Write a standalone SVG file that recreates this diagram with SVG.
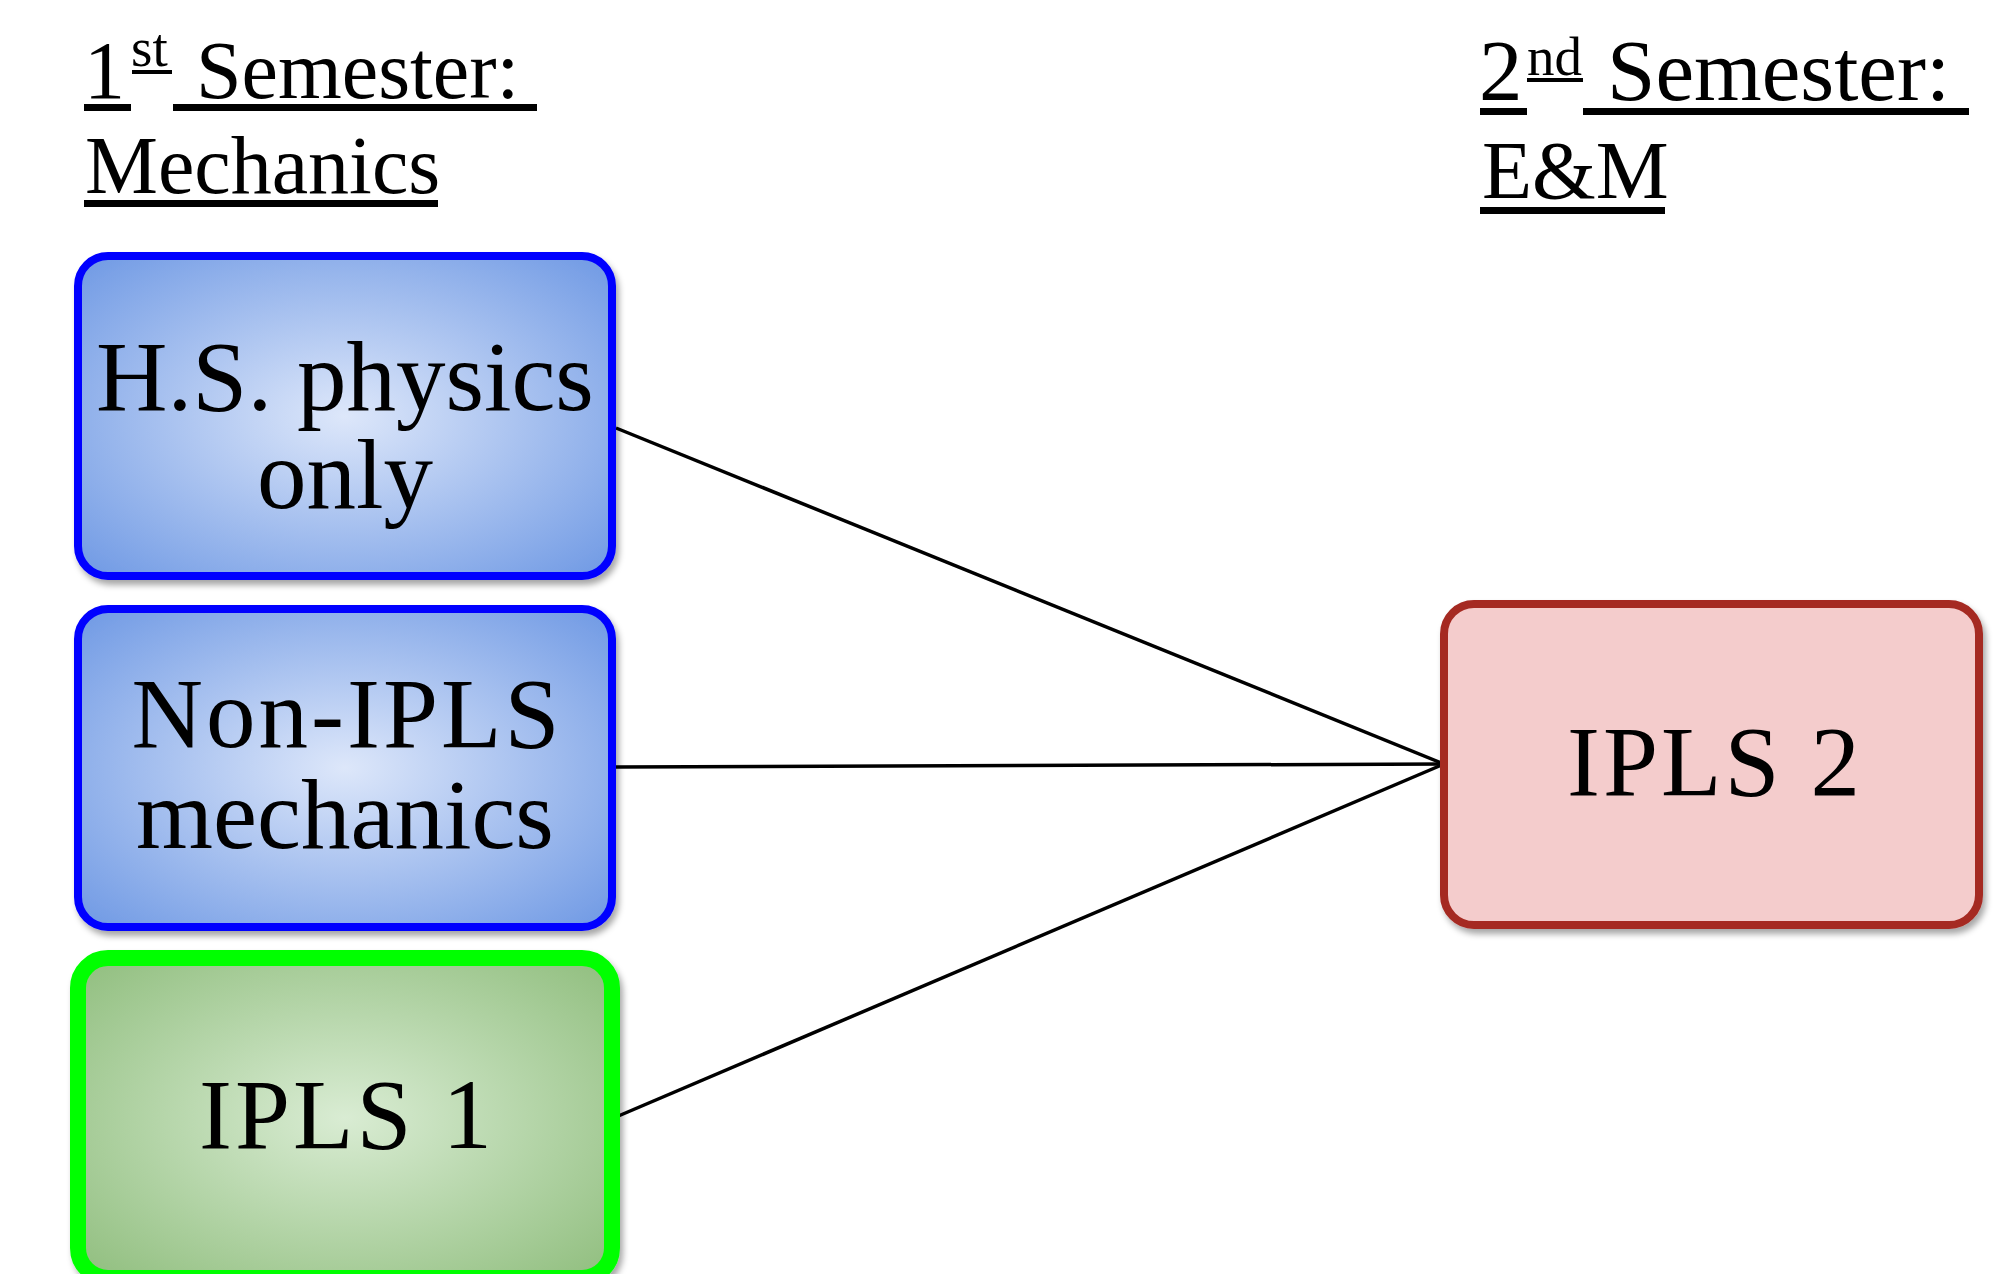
<svg xmlns="http://www.w3.org/2000/svg" width="2001" height="1274" viewBox="0 0 2001 1274">
<style>
  .t { font-family: "Liberation Serif", "Times New Roman", serif; fill: #000; }
  .h1 { font-size: 82px; }
  .h2 { font-size: 87px; }
  .sup { font-size: 55px; }
  .lbl { font-size: 99px; text-anchor: middle; }
  .wide { letter-spacing: 3px; }
  .ul { fill: #000; }
  .blue { fill: url(#gBlue); stroke: #0000FF; stroke-width: 8; }
  .green { fill: url(#gGreen); stroke: #00FF00; stroke-width: 16; }
  .red { fill: #F4CCCC; stroke: #A52A22; stroke-width: 8; }
  .conn { stroke: #000; stroke-width: 3.5; fill: none; }
</style>
<defs>
  <radialGradient id="gBlue" cx="50%" cy="50%" r="70%">
    <stop offset="0" stop-color="#DDE7FA"/>
    <stop offset="1" stop-color="#6F99E4"/>
  </radialGradient>
  <radialGradient id="gGreen" cx="50%" cy="50%" r="70%">
    <stop offset="0" stop-color="#D9ECD3"/>
    <stop offset="1" stop-color="#90BE7E"/>
  </radialGradient>
  <filter id="sh" x="-10%" y="-10%" width="125%" height="125%">
    <feDropShadow dx="3" dy="5" stdDeviation="3" flood-color="#000" flood-opacity="0.35"/>
  </filter>
</defs>
<rect width="2001" height="1274" fill="#fff"/>

<g id="heading1">
  <text class="t h1" x="84" y="98">1</text>
  <text class="t sup" x="131" y="66">st</text>
  <text class="t h1" x="196" y="98">Semester:</text>
  <text class="t h1" x="85" y="193">Mechanics</text>
  <rect class="ul" x="84" y="104" width="47" height="7"/>
  <rect class="ul" x="132" y="70" width="40" height="4"/>
  <rect class="ul" x="173" y="104" width="364" height="7"/>
  <rect class="ul" x="84" y="200" width="354" height="7"/>
</g>

<g id="heading2">
  <text class="t h2" x="1479" y="100">2</text>
  <text class="t sup" x="1527" y="75">nd</text>
  <text class="t h2" x="1607" y="100">Semester:</text>
  <text class="t h1" x="1482" y="198">E&amp;M</text>
  <rect class="ul" x="1480" y="108" width="47" height="7"/>
  <rect class="ul" x="1527" y="78" width="56" height="4"/>
  <rect class="ul" x="1583" y="108" width="386" height="7"/>
  <rect class="ul" x="1480" y="207" width="185" height="7"/>
</g>

<g id="connectors">
  <line class="conn" x1="616" y1="428" x2="1444" y2="764"/>
  <line class="conn" x1="616" y1="767" x2="1444" y2="764"/>
  <line class="conn" x1="616" y1="1117" x2="1444" y2="764"/>
</g>

<g id="node-hs">
  <rect class="blue" x="78" y="256" width="534" height="320" rx="30" filter="url(#sh)"/>
  <text class="t lbl" x="345" y="410">H.S. physics</text>
  <text class="t lbl" x="345" y="508">only</text>
</g>

<g id="node-nonipls">
  <rect class="blue" x="78" y="609" width="534" height="318" rx="30" filter="url(#sh)"/>
  <text class="t lbl wide" x="347" y="747">Non-IPLS</text>
  <text class="t lbl" x="345" y="848">mechanics</text>
</g>

<g id="node-ipls1">
  <rect class="green" x="78" y="958" width="534" height="320" rx="30" filter="url(#sh)"/>
  <text class="t lbl wide" x="347" y="1148">IPLS 1</text>
</g>

<g id="node-ipls2">
  <rect class="red" x="1444" y="604" width="535" height="321" rx="30" filter="url(#sh)"/>
  <text class="t lbl wide" x="1715" y="795">IPLS 2</text>
</g>
</svg>
